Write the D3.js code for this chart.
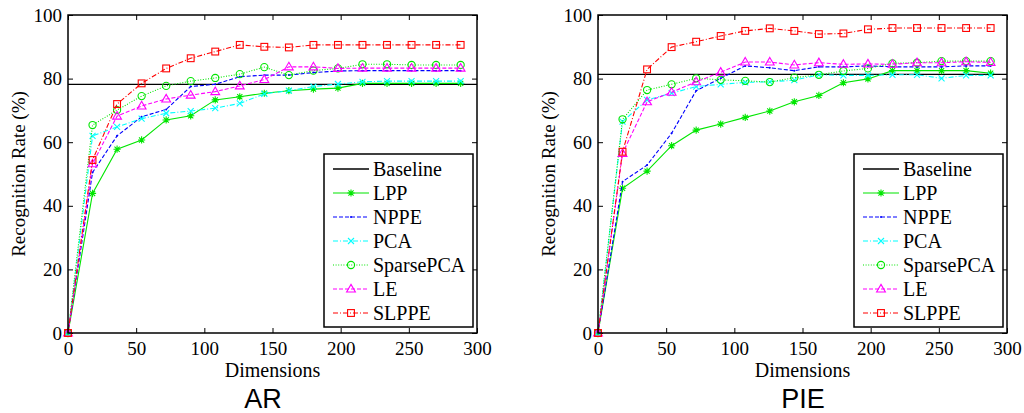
<!DOCTYPE html>
<html>
<head>
<meta charset="utf-8">
<script src="https://cdn.jsdelivr.net/npm/d3@7"></script>
<style>
  body { margin: 0; background: #fff; }
  text { font-family: "Liberation Serif", "Times New Roman", serif; fill: #000; }
</style>
</head>
<body>
<svg width="1024" height="413"></svg>
<script>
// dimensions on the x axis
const dims = [0, 18, 36, 54, 72, 90, 108, 126, 144, 162, 180, 198, 216, 234, 252, 270, 288];
const xTicks = [0, 50, 100, 150, 200, 250, 300];
const yTicks = [0, 20, 40, 60, 80, 100];
const seriesNames = ["LPP", "NPPE", "PCA", "SparsePCA", "LE", "SLPPE"];

// AR
const arBaseline = 78.2;
const arLPP       = [0, 43.9, 57.8, 60.7, 67.0, 68.3, 73.3, 74.3, 75.4, 76.2, 76.7, 77.0, 78.5, 78.5, 78.5, 78.5, 78.5];
const arNPPE      = [0, 50.5, 62.0, 68.0, 70.3, 77.5, 78.2, 80.6, 81.1, 81.1, 81.9, 82.4, 82.5, 82.5, 82.5, 82.5, 82.5];
const arPCA       = [0, 62.0, 64.8, 67.4, 69.1, 69.8, 70.7, 72.2, 75.2, 76.2, 77.5, 78.3, 79.0, 79.2, 79.2, 79.2, 79.2];
const arSparsePCA = [0, 65.4, 70.1, 74.5, 77.7, 79.2, 80.2, 81.4, 83.6, 81.1, 82.5, 83.2, 84.5, 84.5, 84.3, 84.3, 84.3];
const arLE        = [0, 53.2, 68.2, 71.4, 73.6, 74.8, 75.9, 77.7, 79.7, 83.7, 83.7, 83.2, 83.3, 83.3, 83.3, 83.3, 83.3];
const arSLPPE     = [0, 54.4, 72.0, 78.5, 83.2, 86.4, 88.5, 90.6, 90.0, 89.8, 90.6, 90.6, 90.6, 90.6, 90.6, 90.6, 90.6];

// PIE
const pieBaseline = 81.3;
const pieLPP       = [0, 45.5, 50.9, 58.9, 63.8, 65.7, 67.8, 69.8, 72.7, 74.7, 78.7, 79.9, 82.5, 82.5, 82.5, 82.5, 81.7];
const pieNPPE      = [0, 47.6, 52.8, 62.8, 76.2, 80.1, 84.0, 83.4, 82.5, 83.7, 83.7, 84.0, 83.7, 83.7, 83.7, 84.0, 84.0];
const piePCA       = [0, 66.5, 73.3, 75.4, 77.5, 78.2, 78.8, 79.0, 79.5, 81.2, 81.0, 81.0, 81.2, 81.2, 80.1, 81.0, 81.0];
const pieSparsePCA = [0, 67.2, 76.4, 78.2, 80.1, 79.6, 79.3, 78.9, 80.3, 81.2, 82.4, 83.2, 84.8, 85.0, 85.5, 85.5, 85.5];
const pieLE        = [0, 56.5, 72.7, 75.7, 79.0, 82.0, 85.2, 85.2, 84.3, 85.0, 84.5, 84.6, 84.5, 85.0, 85.0, 85.3, 85.1];
const pieSLPPE     = [0, 57.0, 82.9, 89.9, 91.6, 93.4, 95.0, 95.8, 95.0, 94.0, 94.2, 95.5, 95.9, 95.9, 95.9, 95.9, 95.9];

const styles = {
  Baseline:  { color: "#000000", dash: null,        marker: null },
  LPP:       { color: "#00e600", dash: null,        marker: "star" },
  NPPE:      { color: "#0000ff", dash: "4,2",       marker: "dot" },
  PCA:       { color: "#00ffff", dash: "5,2,1,2",   marker: "x" },
  SparsePCA: { color: "#00e600", dash: "1,1.6",     marker: "circle" },
  LE:        { color: "#ff00ff", dash: "4,2",       marker: "triangle" },
  SLPPE:     { color: "#ff0000", dash: "5,2,1,2",   marker: "square" }
};

const svg = d3.select("svg");

function drawMarker(g, type, color, x, y) {
  if (!type) return;
  const s = 3.6;
  if (type === "star") {
    const d = 0.72 * s;
    g.append("path")
      .attr("d", `M${x - s},${y}L${x + s},${y}M${x},${y - s}L${x},${y + s}M${x - d},${y - d}L${x + d},${y + d}M${x - d},${y + d}L${x + d},${y - d}`)
      .attr("stroke", color).attr("stroke-width", 1.1).attr("fill", "none");
  } else if (type === "x") {
    const d = 3;
    g.append("path")
      .attr("d", `M${x - d},${y - d}L${x + d},${y + d}M${x - d},${y + d}L${x + d},${y - d}`)
      .attr("stroke", color).attr("stroke-width", 1.1).attr("fill", "none");
  } else if (type === "dot") {
    g.append("circle").attr("cx", x).attr("cy", y).attr("r", 1).attr("fill", color);
  } else if (type === "circle") {
    g.append("circle").attr("cx", x).attr("cy", y).attr("r", 3.6)
      .attr("fill", "none").attr("stroke", color).attr("stroke-width", 1.1);
  } else if (type === "square") {
    g.append("rect").attr("x", x - 3.4).attr("y", y - 3.4).attr("width", 6.8).attr("height", 6.8)
      .attr("fill", "none").attr("stroke", color).attr("stroke-width", 1.1);
  } else if (type === "triangle") {
    g.append("path").attr("d", `M${x},${y - 4.6}L${x + 4.4},${y + 3}L${x - 4.4},${y + 3}Z`)
      .attr("fill", "none").attr("stroke", color).attr("stroke-width", 1.1);
  }
}

function panel(left, baseline, series, title, titleX) {
  const margin = { top: 15, bottom: 333 };
  const x = d3.scaleLinear().domain([0, 300]).range([left, left + 409]);
  const y = d3.scaleLinear().domain([0, 100]).range([margin.bottom, margin.top]);
  const g = svg.append("g");

  // inward ticks on all four sides
  const tick = 5;
  g.append("g").attr("transform", `translate(0,${margin.bottom})`)
    .call(d3.axisBottom(x).tickValues(xTicks).tickSize(-tick).tickPadding(9).tickFormat(d3.format("d")));
  g.append("g").attr("transform", `translate(0,${margin.top})`)
    .call(d3.axisTop(x).tickValues(xTicks).tickSize(-tick).tickFormat(""));
  g.append("g").attr("transform", `translate(${left},0)`)
    .call(d3.axisLeft(y).tickValues(yTicks).tickSize(-tick).tickPadding(6));
  g.append("g").attr("transform", `translate(${left + 409},0)`)
    .call(d3.axisRight(y).tickValues(yTicks).tickSize(-tick).tickFormat(""));
  g.selectAll(".domain").remove();
  g.selectAll(".tick line").attr("stroke", "#000").attr("stroke-width", 1);
  g.selectAll(".tick text").style("font-family", "Liberation Serif").style("font-size", "19px");

  const lineGen = d3.line().x((d, i) => x(dims[i])).y(d => y(d));

  // baseline
  g.append("line").attr("x1", x(0)).attr("x2", x(300))
    .attr("y1", y(baseline)).attr("y2", y(baseline))
    .attr("stroke", "#000").attr("stroke-width", 1.3);

  seriesNames.forEach(name => {
    const st = styles[name];
    const vals = series[name];
    g.append("path").datum(vals).attr("d", lineGen)
      .attr("fill", "none").attr("stroke", st.color).attr("stroke-width", 1.1)
      .attr("stroke-dasharray", st.dash);
    const mg = g.append("g");
    vals.forEach((v, i) => drawMarker(mg, st.marker, st.color, x(dims[i]), y(v)));
  });

  // frame
  g.append("rect").attr("x", left).attr("y", margin.top)
    .attr("width", 409).attr("height", margin.bottom - margin.top)
    .attr("fill", "none").attr("stroke", "#000").attr("stroke-width", 1.5);

  // legend
  const lx = left + 256, ly = 154;
  const lg = g.append("g");
  lg.append("rect").attr("x", lx).attr("y", ly).attr("width", 149).attr("height", 173)
    .attr("fill", "#fff").attr("stroke", "#000").attr("stroke-width", 1.5);
  ["Baseline"].concat(seriesNames).forEach((name, i) => {
    const st = styles[name];
    const cy = ly + 15 + i * 24;
    lg.append("line").attr("x1", lx + 9).attr("x2", lx + 45).attr("y1", cy).attr("y2", cy)
      .attr("stroke", st.color).attr("stroke-width", name === "Baseline" ? 1.3 : 1.1)
      .attr("stroke-dasharray", st.dash);
    drawMarker(lg, st.marker, st.color, lx + 27, cy);
    lg.append("text").attr("x", lx + 49).attr("y", cy).attr("dy", "0.35em")
      .style("font-size", "20px").text(name);
  });

  // axis labels
  g.append("text").attr("x", left + 204.5).attr("y", 377)
    .attr("text-anchor", "middle").style("font-size", "20px").text("Dimensions");
  g.append("text")
    .attr("transform", `translate(${left - 50},174) rotate(-90)`)
    .attr("text-anchor", "middle").attr("dy", "0.35em")
    .style("font-size", "19px").text("Recognition Rate (%)");
  g.append("text").attr("x", titleX).attr("y", 408)
    .attr("text-anchor", "middle")
    .style("font-family", "Liberation Sans, Arial, sans-serif").style("font-size", "27px")
    .text(title);
}

panel(68, arBaseline,
  { LPP: arLPP, NPPE: arNPPE, PCA: arPCA, SparsePCA: arSparsePCA, LE: arLE, SLPPE: arSLPPE },
  "AR", 263);
panel(598, pieBaseline,
  { LPP: pieLPP, NPPE: pieNPPE, PCA: piePCA, SparsePCA: pieSparsePCA, LE: pieLE, SLPPE: pieSLPPE },
  "PIE", 803);
</script>
</body>
</html>
